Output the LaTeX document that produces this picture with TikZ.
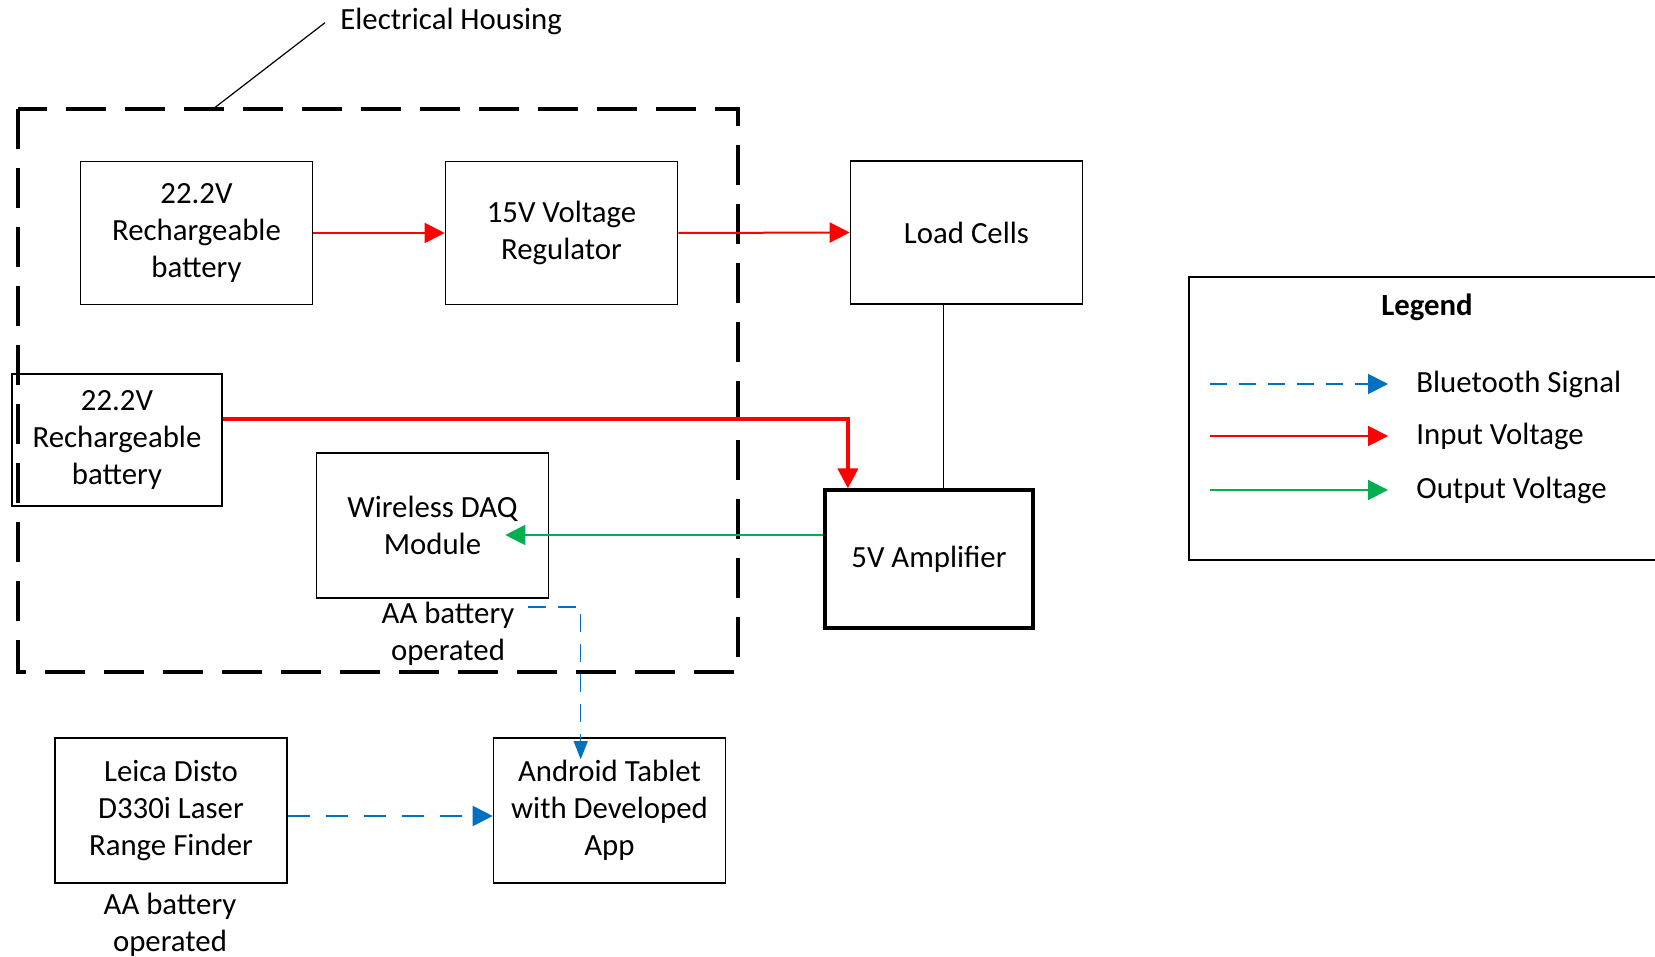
\documentclass[tikz,border=0pt]{standalone}
\usepackage{fontspec}
\setmainfont{Carlito}
\usetikzlibrary{arrows.meta, positioning, calc}

\definecolor{vred}{RGB}{255,0,0}
\definecolor{vgreen}{RGB}{0,176,80}
\definecolor{btblue}{RGB}{0,112,192}

\begin{document}
\begin{tikzpicture}[
      x = 0.5pt, y = -0.5pt,                      % one unit per pixel, y downwards
      > = {Triangle[length=10pt, width=10pt]},    % arrow head style
      font = \fontsize{15.4}{18.5}\selectfont
    ]

    \tikzstyle{B1}=[      % Defines style for a block
      draw, line width = 0.8pt,
      align = center, inner sep = 0pt,
      minimum width = 116pt, minimum height = 71.5pt
    ]

    \tikzstyle{N1}=[      % Defines style for a note under a block
      align = center, inner sep = 0pt
    ]

    \tikzstyle{R1}=[vred, line width = 1pt]             % input voltage
    \tikzstyle{G1}=[vgreen, line width = 1pt]           % output voltage
    \tikzstyle{BT1}=[btblue, line width = 1pt,          % bluetooth signal
      dash pattern = on 10pt off 9pt]

    \useasboundingbox (0,0) rectangle (1655,957);

    % Electrical housing
    \draw[line width = 2pt, dash pattern = on 20pt off 9.5pt]
      (18.4,109) rectangle (738,672);
    \node[N1, anchor = west] (hlabel) at (340,21.7) {Electrical Housing};
    \coordinate (hfoot) at (213,109);
    \draw[line width = 0.6pt] ($(hlabel.west)+(-15,1)$) -- (hfoot);

    % Definition of the blocks
    \node[B1] (bat1) at (196.5,233) {22.2V\\Rechargeable\\battery};
    \node[B1] (reg) at (561.5,233) {15V Voltage\\Regulator};
    \node[B1] (load) at (966.5,232.5) {Load Cells};
    \node[B1, minimum width = 105pt, minimum height = 66pt] (bat2) at (117,440)
      {22.2V\\Rechargeable\\battery};
    \node[B1, minimum height = 72.5pt] (daq) at (432.5,525.5) {Wireless DAQ\\Module};
    \node[B1, line width = 1.6pt, minimum width = 104pt, minimum height = 69pt] (amp)
      at (929,559) {5V Amplifier};
    \node[B1, minimum height = 72.5pt] (leica) at (171,810.5)
      {Leica Disto\\D330i Laser\\Range Finder};
    \node[B1, minimum height = 72.5pt] (tablet) at (609.5,810.5)
      {Android Tablet\\with Developed\\App};

    \node[N1] (daqnote) at (448,634) {AA battery\\operated};
    \node[N1] (leicanote) at (170,925) {AA battery\\operated};

    % Definition of the connectors
    \draw[R1, ->] (bat1.east) -- (reg.west);
    \draw[R1, ->] (reg.east) -- (load.west);
    \draw[R1, line width = 2pt, ->] ($(bat2.east)+(0,-21)$) -| ($(amp.north west)+(24.5,0)$);

    \coordinate (lc) at ($(load.south)+(-23,0)$);
    \draw[line width = 0.8pt] (lc) -- (lc |- amp.north);

    \draw[G1, ->] ($(amp.west)+(0,-24)$) -- ($(daq.east)+(-44,9.5)$);

    \coordinate (bts) at (528,607);
    \draw[BT1, line width = 0.6pt, dash pattern = on 9pt off 6pt,
      -{Triangle[length=9pt, width=7pt]}]
      (bts) -| ($(tablet.north west)+(88,22)$);
    \draw[BT1, dash pattern = on 11pt off 8pt, ->]
      ($(leica.east)+(0,5.5)$) -- ($(tablet.west)+(0,5.5)$);

    % Legend
    \draw[line width = 0.8pt] (1655,277) -- (1189,277) -- (1189,560) -- (1655,560);
    \node[N1, font = \bfseries\fontsize{15.4}{18.5}\selectfont] (legend) at (1427,307) {Legend};

    \node[N1, anchor = west] (lbt) at (1416,384) {Bluetooth Signal};
    \node[N1, anchor = west] (lin) at (1416,436) {Input Voltage};
    \node[N1, anchor = west] (lout) at (1416,490) {Output Voltage};

    \draw[BT1, line width = 0.8pt, dash pattern = on 8.5pt off 6pt, ->]
      ($(lbt.west)+(-206,0)$) -- ($(lbt.west)+(-28,0)$);
    \draw[R1, ->] ($(lin.west)+(-206,0)$) -- ($(lin.west)+(-28,0)$);
    \draw[G1, ->] ($(lout.west)+(-206,0)$) -- ($(lout.west)+(-28,0)$);

  \end{tikzpicture}
\end{document}
